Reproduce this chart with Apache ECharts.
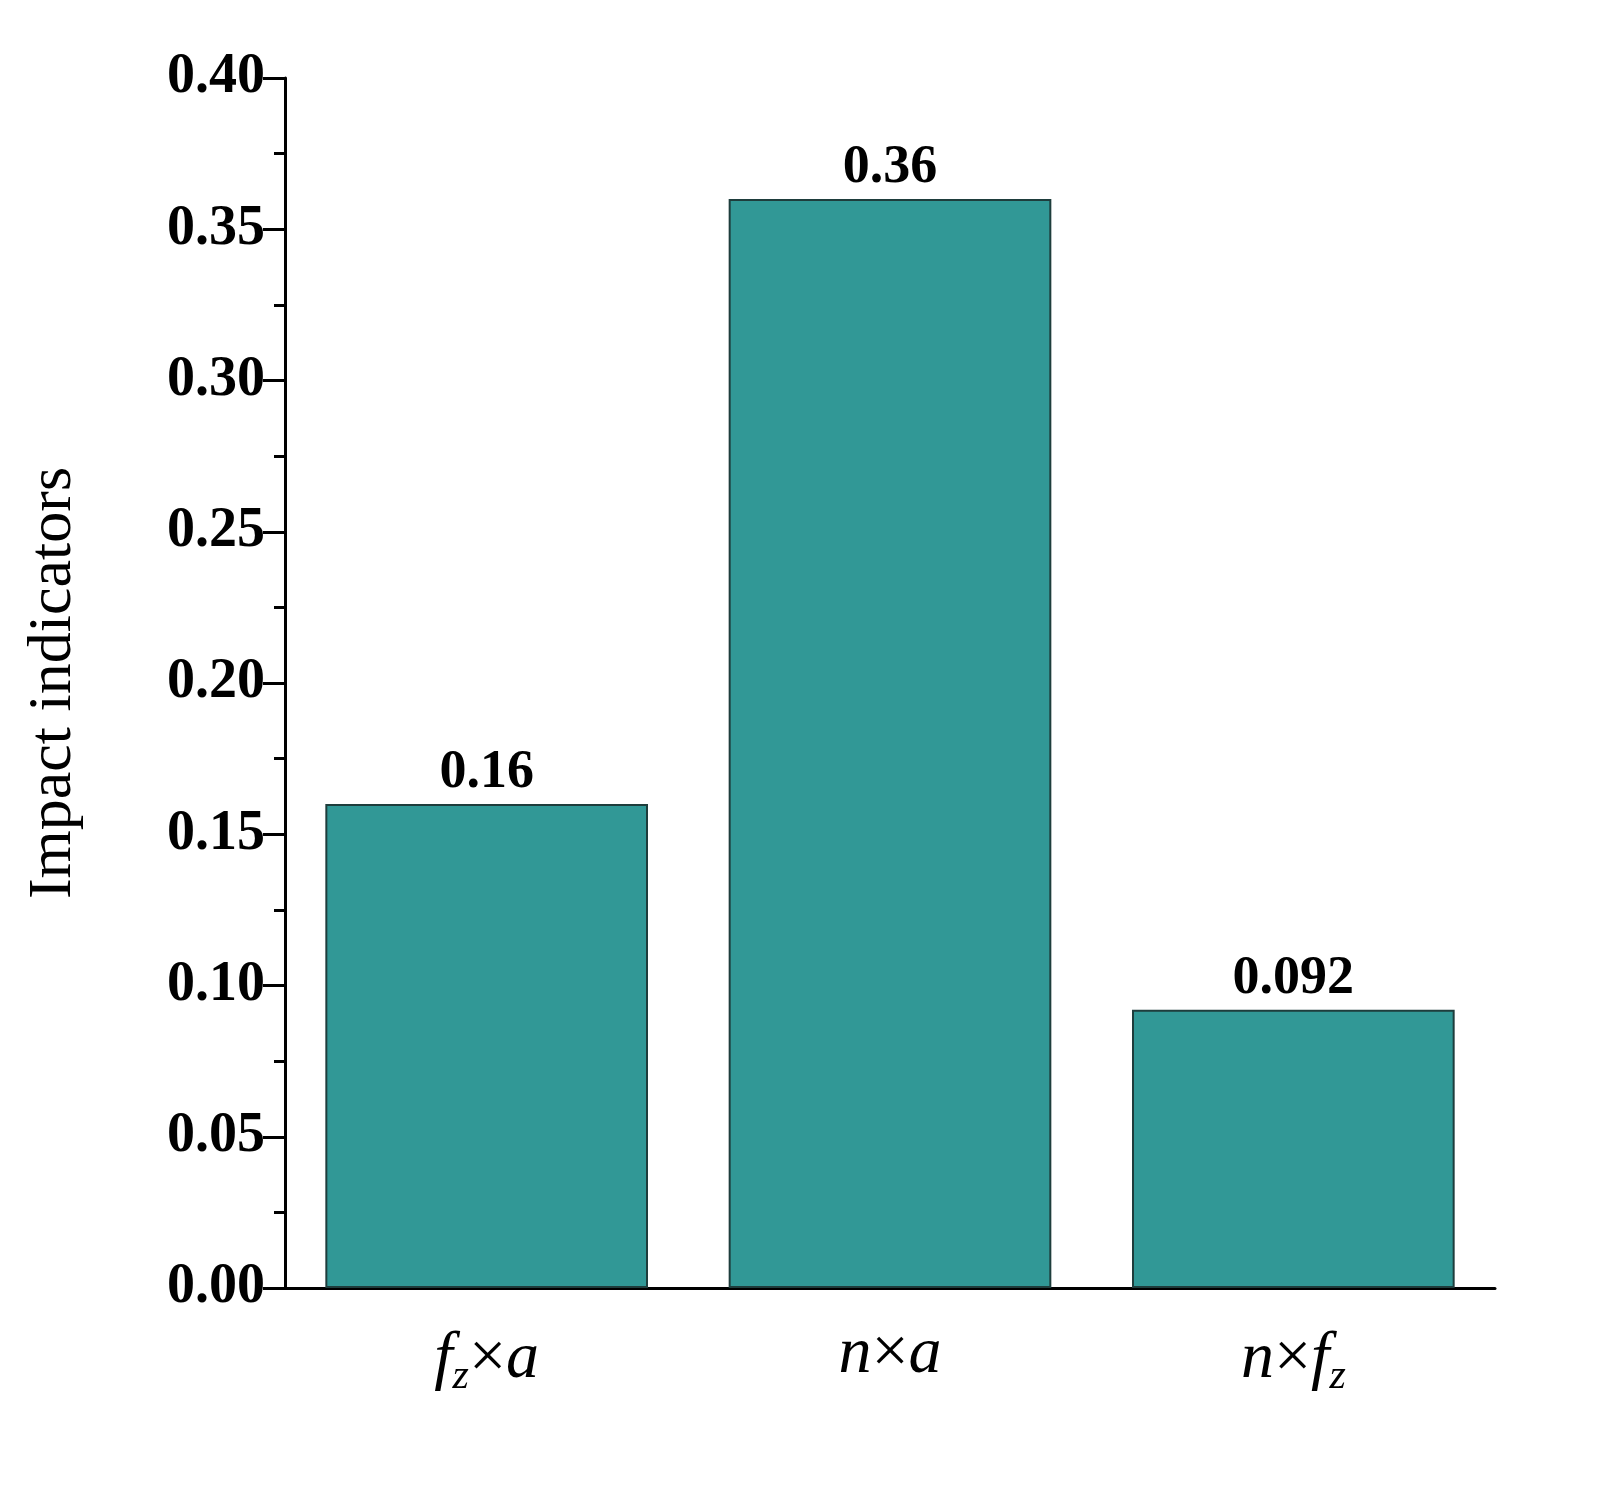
<!DOCTYPE html>
<html><head><meta charset="utf-8">
<script src="https://cdn.jsdelivr.net/npm/echarts@6/dist/echarts.min.js"></script>
<style>html,body{margin:0;background:#fff}#c{width:1618px;height:1490px}</style>
</head><body><div id="c"></div>
<script>
const categories = ['fz×a', 'n×a', 'n×fz'];
const values = [0.16, 0.36, 0.092];
const valueLabels = ['0.16', '0.36', '0.092'];
const yTicks = [0, 0.05, 0.10, 0.15, 0.20, 0.25, 0.30, 0.35, 0.40];

const F = 'Liberation Serif';
const chart = echarts.init(document.getElementById('c'));
const catFmt = {
  'fz×a': '{i|f}{s|z}{n|×}{i|a}',
  'n×a': '{i|n}{n|×}{i|a}',
  'n×fz': '{i|n}{n|×}{i|f}{s|z}'
};
chart.setOption({
  animation: false,
  grid: {left: 285, top: 78, right: 123, bottom: 202},
  xAxis: {
    type: 'category', data: categories,
    axisLine: {lineStyle: {color: '#000', width: 3}},
    axisTick: {alignWithLabel: true, length: 14, lineStyle: {color: '#000', width: 3}},
    axisLabel: {
      margin: 34,
      formatter: v => catFmt[v],
      rich: {
        i: {fontFamily: F, fontStyle: 'italic', fontSize: 66, color: '#000'},
        n: {fontFamily: F, fontSize: 66, color: '#000'},
        s: {fontFamily: F, fontStyle: 'italic', fontSize: 42, color: '#000', verticalAlign: 'bottom', padding: [34, 0, 0, 0]}
      }
    }
  },
  yAxis: {
    type: 'value', min: 0, max: 0.4, interval: 0.05,
    name: 'Impact indicators', nameLocation: 'middle', nameGap: 200,
    nameTextStyle: {fontFamily: F, fontSize: 62, color: '#000'},
    axisLine: {show: true, lineStyle: {color: '#000', width: 3}},
    axisTick: {show: true, length: 22, lineStyle: {color: '#000', width: 3}},
    minorTick: {show: true, splitNumber: 2, length: 11, lineStyle: {color: '#000', width: 3}},
    splitLine: {show: false},
    axisLabel: {fontFamily: F, fontWeight: 'bold', fontSize: 56, color: '#000', margin: 20,
      formatter: v => v.toFixed(2)}
  },
  series: [{
    type: 'bar', data: values, barWidth: '80%',
    itemStyle: {color: '#319896', borderColor: '#1e3d3c', borderWidth: 2},
    label: {show: true, position: 'top', distance: 4,
      formatter: p => valueLabels[p.dataIndex],
      fontFamily: F, fontWeight: 'bold', fontSize: 54, color: '#000'}
  }]
});
</script></body></html>
